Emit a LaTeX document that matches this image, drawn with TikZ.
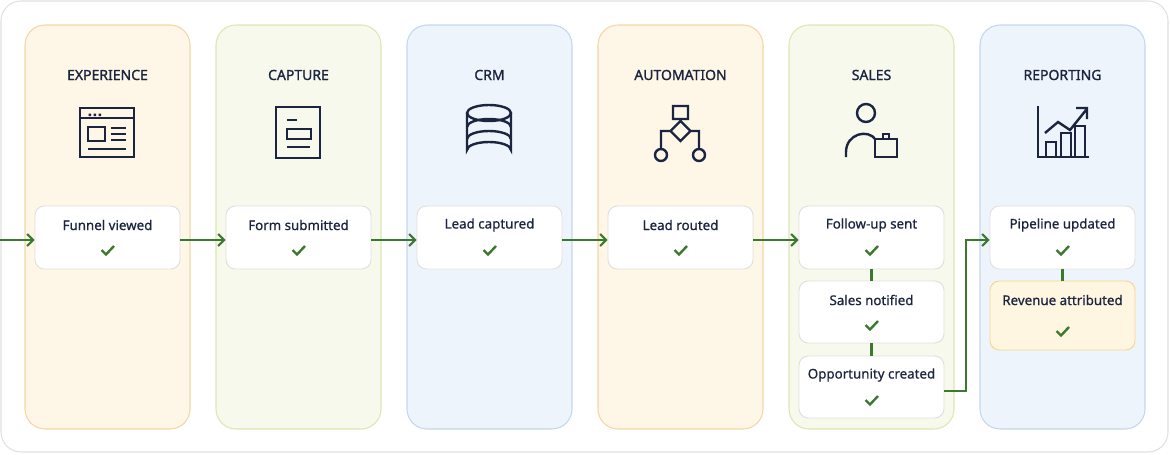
\documentclass[tikz,border=0pt]{standalone}
\usepackage{fontspec}
\setmainfont{Noto Sans}
\newfontfamily\ttlf{Noto Sans}[FakeBold=1.3]
\newfontfamily\lblf{Noto Sans}[FakeBold=0.7]
\usetikzlibrary{arrows.meta}
\definecolor{navy}{HTML}{1B2540}
\definecolor{gr}{HTML}{3B7A2E}
\definecolor{of}{HTML}{FEF6E6}\definecolor{ob}{HTML}{F3D7A6}
\definecolor{gf}{HTML}{F6F9EC}\definecolor{gb}{HTML}{DCE7B3}
\definecolor{bf}{HTML}{EEF4FC}\definecolor{bb}{HTML}{C4D7EC}
\definecolor{yf}{HTML}{FEF6E0}\definecolor{yb}{HTML}{F3D88C}
\tikzset{
 col/.style={rounded corners=15pt,line width=0.8pt},
 card/.style={draw=black!12,fill=white,rounded corners=7pt,line width=0.7pt},
 ttl/.style={font=\ttlf\fontsize{10.5}{12}\selectfont, text=navy},
 lbl/.style={font=\lblf\fontsize{10}{12}\selectfont, text=navy},
 ico/.style={draw=navy,line width=1.8pt},
 conn/.style={draw=gr,line width=1.6pt},
 arr/.style={conn,-{Straight Barb[length=4.5pt,width=9pt,line width=1.6pt]}},
 chk/.style={draw=gr,line width=1.8pt}
}
\newcommand{\mycheck}[2]{\draw[chk] ({#1-6},{#2}) -- ({#1-1.5},{#2+4.5}) -- ({#1+6.5},{#2-4});}
\newcommand{\mycard}[6]{%
 \node[card,minimum width={(#4-#2)*0.75pt},minimum height={(#5-#3)*0.75pt},inner sep=0pt] (#1) at ({(#2+#4)/2},{(#3+#5)/2}) {};
 \node[lbl] (#1t) at ({(#2+#4)/2},{#3+19}) {#6};
 \mycheck{(#2+#4)/2}{#3+44}}
\begin{document}
\begin{tikzpicture}[x=0.75pt,y=-0.75pt]
\useasboundingbox (0,0) rectangle (1170,454);
\draw[black!12,rounded corners=15pt,line width=0.8pt] (1,1) rectangle (1168,452);
\foreach \i/\f/\b/\t in {0/of/ob/EXPERIENCE,1/gf/gb/CAPTURE,2/bf/bb/CRM,3/of/ob/AUTOMATION,4/gf/gb/SALES,5/bf/bb/REPORTING}{
 \draw[col,fill=\f,draw=\b] (25+191*\i,25) rectangle (190+191*\i,429);
 \node[ttl] (t\i) at (107.5+191*\i,75) {\t};
}
% icons
\draw[ico] (80,108) rectangle (134,157) (80,118)--(134,118);
\fill[navy] (88.5,113.5) rectangle (91,116) (93.5,113.5) rectangle (96,116) (98.5,113.5) rectangle (101,116);
\draw[ico] (88,127) rectangle (105,141) (111,128)--(126,128) (111,134)--(126,134) (111,140)--(126,140) (88,149)--(126,149);
\draw[ico] (276,107) rectangle (320,158) (287,120)--(297,120) (287,129) rectangle (311,139) (287,147)--(310,147);
\draw[ico] (489,113) ellipse (22 and 8);
\draw[ico] (467,113)--(467,150) arc (180:360:22 and 8) -- (511,113);
\draw[ico] (467,127) arc (180:360:22 and 8) (467,139) arc (180:360:22 and 8);
\draw[ico] (673,106) rectangle (688,119) (680.5,119)--(680.5,121) (680.5,121)--(690.5,131)--(680.5,141)--(670.5,131)--cycle
 (670.5,131)--(661,131)--(661,149) (690.5,131)--(699,131)--(699,149)
 (661,155) circle (6) (699,155) circle (6);
\draw[ico] (866,113) circle (9) (846,157) -- (846,152) .. controls (846,134) and (868,128) .. (876,140);
\draw[ico] (875,139) rectangle (897,157) (883,139)--(883,134)--(889,134)--(889,139);
\draw[ico] (1038,106)--(1038,157)--(1089,157) (1046,157)--(1046,142)--(1056,142)--(1056,157)
 (1061,157)--(1061,133)--(1071,133)--(1071,157) (1075,157)--(1075,126)--(1085,126)--(1085,157);
\draw[ico] (1045,133)--(1058,122)--(1070,130)--(1086,110) (1076,108)--(1087,108)--(1087,119);
% cards
\mycard{c0}{35}{206}{180}{269}{Funnel viewed}
\mycard{c1}{226}{206}{371}{269}{Form submitted}
\mycard{c2}{417}{206}{562}{269}{Lead captured}
\mycard{c3}{608}{206}{753}{269}{Lead routed}
\mycard{c4}{799}{206}{944}{269}{Follow-up sent}
\mycard{c5}{799}{281}{944}{343}{Sales notified}
\mycard{c6}{799}{356}{944}{418}{Opportunity created}
\mycard{c7}{990}{206}{1135}{269}{Pipeline updated}
\node[card,fill=yf,draw=yb,minimum width=108.75pt,minimum height=51.75pt,inner sep=0pt] (c8) at (1062.5,315.5) {};
\node[lbl] (c8t) at (1062.5,300) {Revenue attributed};
\mycheck{1062.5}{331}
% connectors
\coordinate (s) at (0,240);
\draw[arr] (s) -- (c0.west|-s);
\draw[arr] (c0.east|-s) -- (c1.west|-s);
\draw[arr] (c1.east|-s) -- (c2.west|-s);
\draw[arr] (c2.east|-s) -- (c3.west|-s);
\draw[arr] (c3.east|-s) -- (c4.west|-s);
\draw[conn] (c4.south) -- (c5.north) (c5.south) -- (c6.north);
\draw[conn] (c7.south) -- (c8.north);
\coordinate (o) at (944,391);
\draw[arr] (o) -- (966,391) -- (966,240) -- (c7.west|-s);
\end{tikzpicture}
\end{document}
